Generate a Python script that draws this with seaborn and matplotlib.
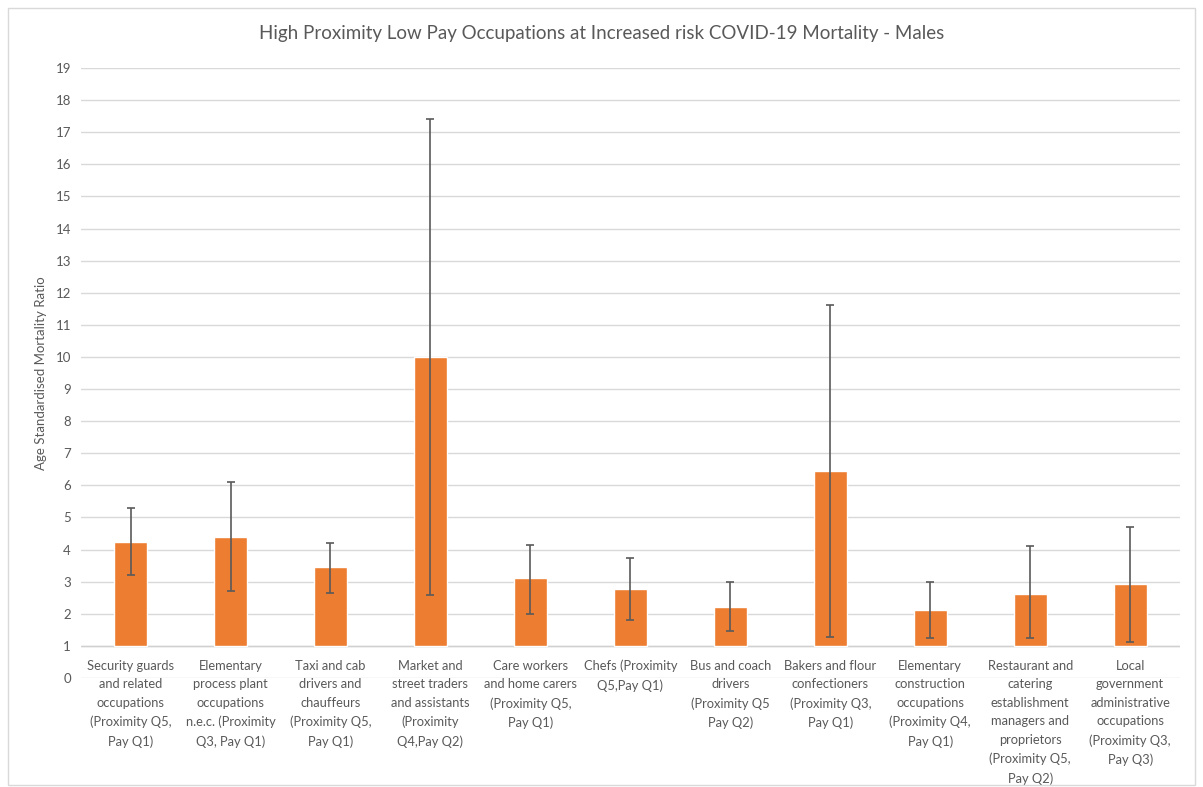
import numpy as np
import pandas as pd
import matplotlib
matplotlib.use("Agg")
import matplotlib.pyplot as plt
import seaborn as sns

# occupations (x tick labels, wrapped as in the original chart)
occupations = [
    "Security guards\nand related\noccupations\n(Proximity Q5,\nPay Q1)",
    "Elementary\nprocess plant\noccupations\nn.e.c. (Proximity\nQ3, Pay Q1)",
    "Taxi and cab\ndrivers and\nchauffeurs\n(Proximity Q5,\nPay Q1)",
    "Market and\nstreet traders\nand assistants\n(Proximity\nQ4,Pay Q2)",
    "Care workers\nand home carers\n(Proximity Q5,\nPay Q1)",
    "Chefs (Proximity\nQ5,Pay Q1)",
    "Bus and coach\ndrivers\n(Proximity Q5\nPay Q2)",
    "Bakers and flour\nconfectioners\n(Proximity Q3,\nPay Q1)",
    "Elementary\nconstruction\noccupations\n(Proximity Q4,\nPay Q1)",
    "Restaurant and\ncatering\nestablishment\nmanagers and\nproprietors\n(Proximity Q5,\nPay Q2)",
    "Local\ngovernment\nadministrative\noccupations\n(Proximity Q3,\nPay Q3)",
]

# age standardised mortality ratio and confidence limits
asmr = [4.25, 4.4, 3.45, 10.0, 3.1, 2.78, 2.2, 6.45, 2.12, 2.62, 2.93]
lower = [3.2, 2.7, 2.65, 2.6, 2.0, 1.8, 1.45, 1.28, 1.25, 1.24, 1.12]
upper = [5.3, 6.12, 4.2, 17.4, 4.14, 3.74, 2.99, 11.62, 2.99, 4.1, 4.69]

baseline = 1  # horizontal axis crosses at 1 in the original

df = pd.DataFrame({"occupation": occupations, "asmr": asmr})
df["height"] = df["asmr"] - baseline

sns.set_theme(style="white")
plt.rcParams["font.family"] = ["Lato", "DejaVu Sans"]

grey = "#595959"
fig = plt.figure(figsize=(12.03, 7.87), dpi=100)
ax = fig.add_axes([0.067, 0.1385, 0.914, 0.775])

sns.barplot(data=df, x="occupation", y="height", color="#ED7D31",
            width=0.33, saturation=1, bottom=baseline, ax=ax, zorder=2)

xs = np.arange(len(occupations))
yerr = [np.array(asmr) - np.array(lower), np.array(upper) - np.array(asmr)]
ax.errorbar(xs, asmr, yerr=yerr, fmt="none", ecolor="#5a5a5a",
            elinewidth=1.2, capsize=3, capthick=1.2, zorder=3)

ax.set_ylim(0, 19)
ax.set_xlim(-0.5, len(occupations) - 0.5)
ax.set_yticks(range(0, 20))
ax.yaxis.grid(True, color="#d9d9d9", linewidth=1)
ax.set_axisbelow(True)
ax.axhline(baseline, color="#d0d0d0", linewidth=1, zorder=1)
for s in ax.spines.values():
    s.set_visible(False)

ax.set_xticks(xs)
ax.set_xticklabels(occupations, fontsize=9.3, color=grey, linespacing=1.65,
                   va="top")
ax.tick_params(axis="x", length=0, pad=-13)
ax.tick_params(axis="y", length=0, pad=7, labelsize=9.5, labelcolor=grey)
ax.set_xlabel("")
ax.set_ylabel("Age Standardised Mortality Ratio", fontsize=9.5, color=grey,
              labelpad=6)

fig.suptitle("High Proximity Low Pay Occupations at Increased risk COVID-19 Mortality - Males",
             fontsize=13.5, color=grey, y=0.968)

# light frame around the chart area
fig.add_artist(plt.Rectangle((0.007, 0.003), 0.986, 0.987, transform=fig.transFigure,
                             fill=False, edgecolor="#d9d9d9", linewidth=1))

fig.savefig("out.png", dpi=100)
